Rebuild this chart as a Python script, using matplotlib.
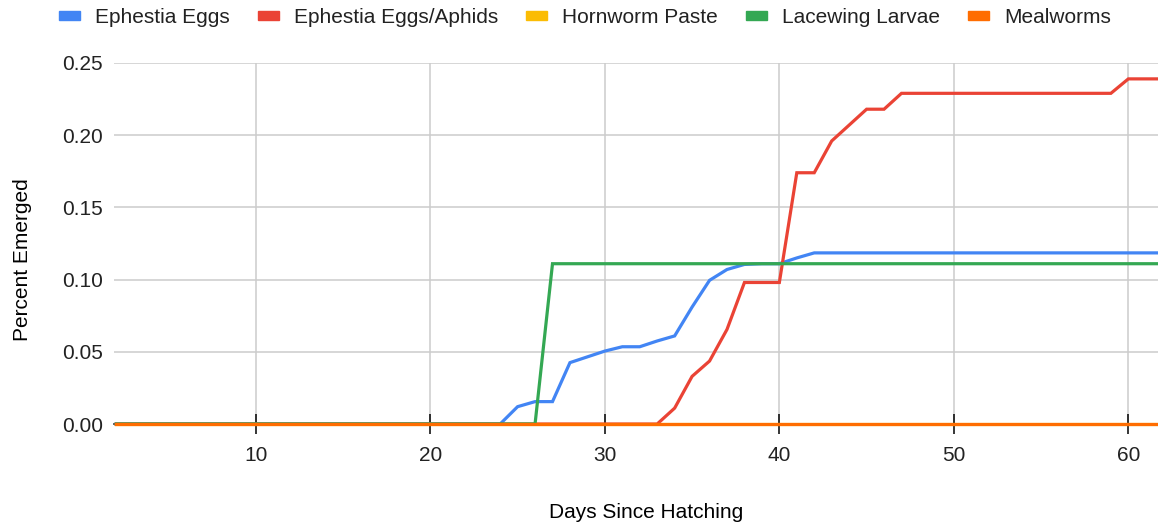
import matplotlib
matplotlib.use("Agg")
import matplotlib.pyplot as plt
from matplotlib.patches import Patch

# emergence by day since hatching, one list per diet
days = list(range(2, 63))
ephestia = [0.0] * 23 + [0.012, 0.0155, 0.0155, 0.0425, 0.0465, 0.0505, 0.0535,
                         0.0535, 0.0575, 0.061, 0.081, 0.0995, 0.107, 0.1105,
                         0.111, 0.111, 0.115] + [0.1185] * 21
ephestia_aphids = [0.0] * 32 + [0.011, 0.033, 0.0436, 0.0655, 0.098, 0.098, 0.098,
                                0.174, 0.174, 0.196, 0.207, 0.218, 0.218] \
    + [0.229] * 13 + [0.239] * 3
hornworm = [0.0] * 61
lacewing = [0.0] * 25 + [0.111] * 36
mealworms = [0.0] * 61

names = ["Ephestia Eggs", "Ephestia Eggs/Aphids", "Hornworm Paste",
         "Lacewing Larvae", "Mealworms"]
series = [ephestia, ephestia_aphids, hornworm, lacewing, mealworms]
colors = ["#4285F4", "#EA4335", "#FBBC04", "#34A853", "#FF6D01"]

FS = 15
plt.rcParams.update({"font.family": ["Liberation Sans", "DejaVu Sans"],
                     "font.size": FS, "text.color": "#222222"})

W, H = 1158, 527
fig = plt.figure(figsize=(W / 100, H / 100), dpi=100)
ax = fig.add_axes([114 / W, 1 - 424 / H, 1 - 114 / W, (424 - 63) / H])

for vals, c in zip(series, colors):
    ax.plot(days, vals, color=c, lw=2.3, clip_on=False, zorder=3,
            solid_joinstyle="miter")

ax.set_xlim(1.87, 61.7)
ax.set_ylim(0, 0.25)
ax.set_xticks([10, 20, 30, 40, 50, 60])
ax.set_yticks([0, 0.05, 0.10, 0.15, 0.20, 0.25])
ax.set_yticklabels(["0.00", "0.05", "0.10", "0.15", "0.20", "0.25"])
ax.grid(True, color="#cccccc", lw=1.1, zorder=0)
ax.set_axisbelow(True)
for s in ("top", "right", "left"):
    ax.spines[s].set_visible(False)
ax.spines["bottom"].set_color("black")
ax.spines["bottom"].set_linewidth(1.1)
ax.tick_params(axis="x", direction="inout", length=15, width=1.1,
               color="black", pad=8, labelsize=FS, labelcolor="#222222")
ax.tick_params(axis="y", length=0, pad=8, labelsize=FS, labelcolor="#222222")

ax.set_xlabel("Days Since Hatching", fontsize=FS, va="center")
ax.xaxis.set_label_coords((646 - 114) / (W - 114), (424 - 513) / (424 - 63))
ax.set_ylabel("Percent Emerged", fontsize=FS, va="center")
ax.yaxis.set_label_coords((23 - 114) / (W - 114), (424 - 260) / (424 - 63))

handles = [Patch(facecolor=c, edgecolor=c) for c in colors]
fig.legend(handles, names, loc="center", bbox_to_anchor=(585 / W, 1 - 17.5 / H),
           ncol=5, frameon=False, fontsize=FS, handlelength=1.0,
           handleheight=0.34, handletextpad=0.72, columnspacing=1.35)

fig.savefig("out.png", dpi=100)
